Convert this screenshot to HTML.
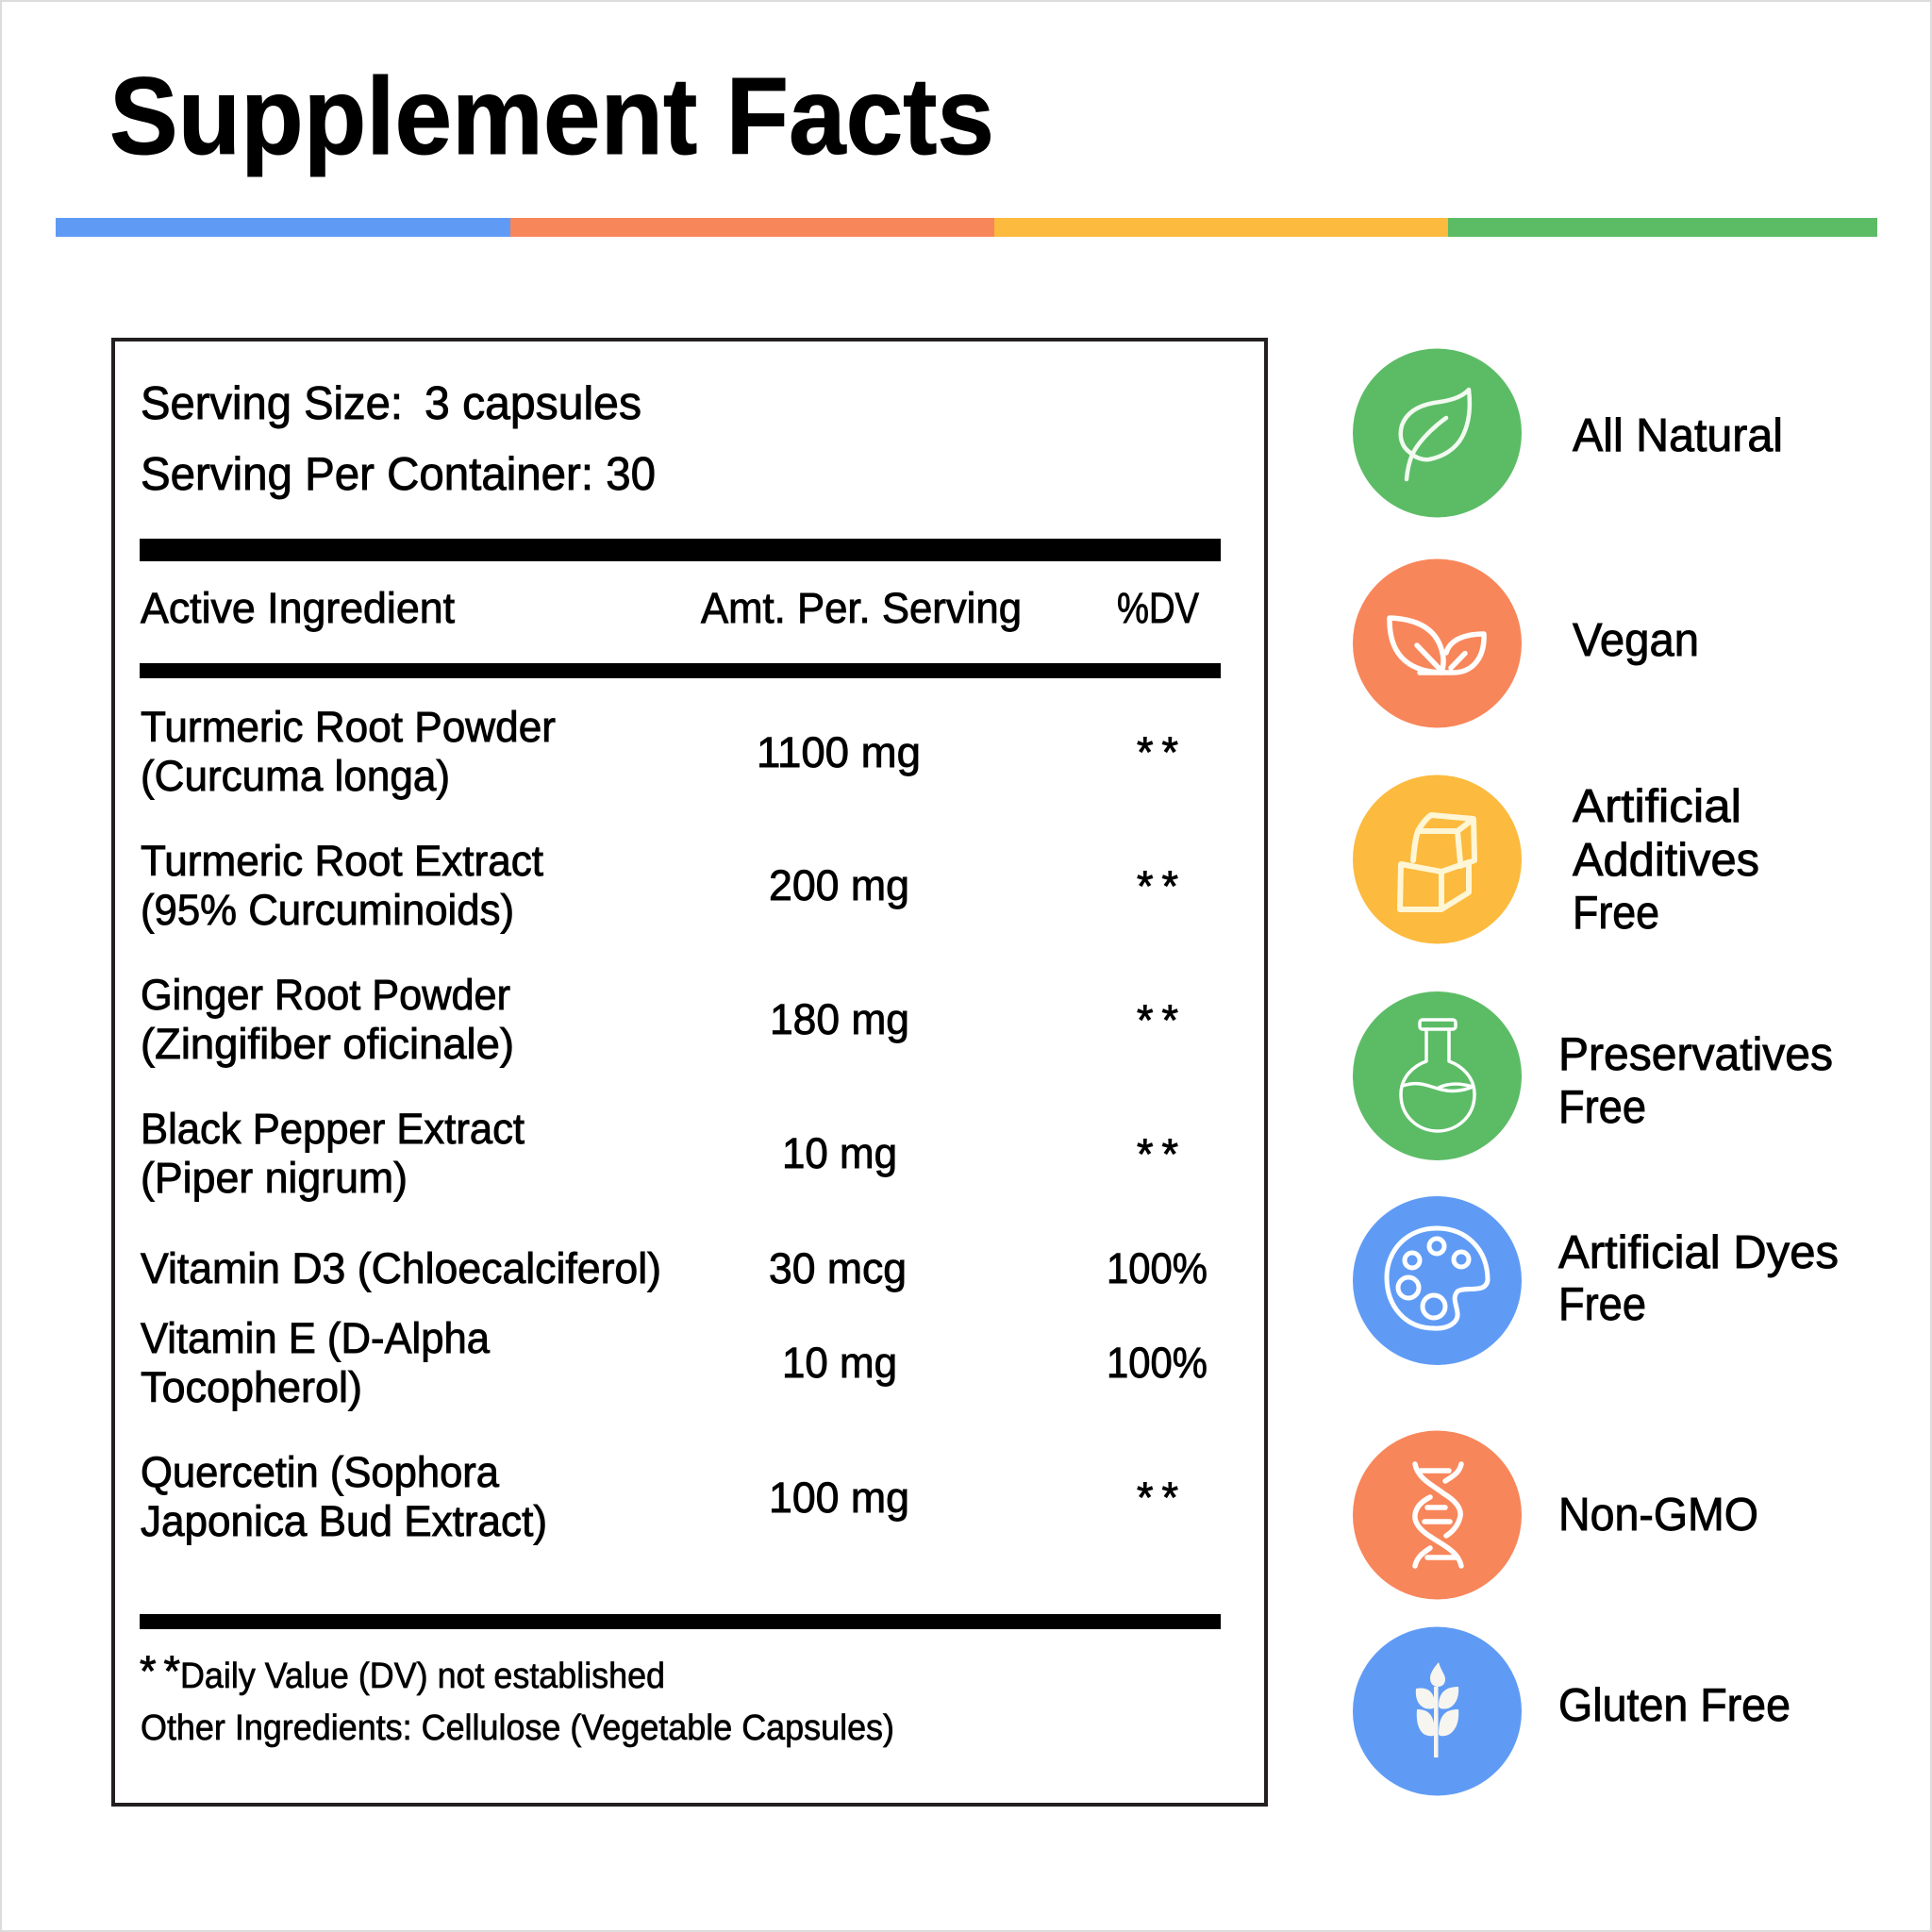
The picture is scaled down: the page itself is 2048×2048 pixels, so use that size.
<!DOCTYPE html>
<html lang="en"><head><meta charset="utf-8"><title>Supplement Facts</title>
<style>
html,body{margin:0;padding:0;background:#fff}
svg{display:block}
text{font-family:"Liberation Sans",sans-serif;fill:#000;stroke:#000;stroke-width:.9px}
.t{font-size:116px;font-weight:700;stroke-width:1px}
.h{font-size:49px}
.r{font-size:45px}
.f{font-size:38px;stroke-width:.7px}
.l{font-size:49px}
.i{fill:none;stroke:#fff;stroke-width:5;stroke-linecap:round;stroke-linejoin:round}
</style></head><body>
<svg xmlns="http://www.w3.org/2000/svg" width="2048" height="2048" viewBox="0 0 2048 2048">
<rect x="1" y="1" width="2046" height="2046" fill="#fff" stroke="#dcdcdc" stroke-width="2"/>
<text class="t" x="116" y="163" textLength="938" lengthAdjust="spacingAndGlyphs">Supplement Facts</text>
<g>
<rect x="59" y="231" width="482" height="20" fill="#5F9BF5"/>
<rect x="541" y="231" width="513" height="20" fill="#F8865B"/>
<rect x="1054" y="231" width="481" height="20" fill="#FCBA3E"/>
<rect x="1535" y="231" width="455" height="20" fill="#5CBC66"/>
</g>
<rect x="120" y="360" width="1222" height="1553" fill="none" stroke="#231f20" stroke-width="4"/>
<text class="h" x="149" y="444" textLength="278" lengthAdjust="spacingAndGlyphs">Serving Size:</text>
<text class="h" x="450" y="444" textLength="230" lengthAdjust="spacingAndGlyphs">3 capsules</text>
<text class="h" x="149" y="519" textLength="546" lengthAdjust="spacingAndGlyphs">Serving Per Container: 30</text>
<rect x="148" y="571" width="1146" height="24" fill="#000"/>
<text class="r" x="149" y="660" textLength="333" lengthAdjust="spacingAndGlyphs">Active Ingredient</text>
<text class="r" x="743" y="660" textLength="340" lengthAdjust="spacingAndGlyphs">Amt. Per. Serving</text>
<text class="r" x="1184" y="660" textLength="87" lengthAdjust="spacingAndGlyphs">%DV</text>
<rect x="148" y="703" width="1146" height="16" fill="#000"/>

<g>
<text class="r" x="149" y="786" textLength="440" lengthAdjust="spacingAndGlyphs">Turmeric Root Powder</text>
<text class="r" x="149" y="838" textLength="328" lengthAdjust="spacingAndGlyphs">(Curcuma longa)</text>
<text class="r" x="802" y="813" textLength="174" lengthAdjust="spacingAndGlyphs">1100 mg</text>
<text class="r" x="1205" y="813" textLength="44">**</text>
</g>
<g>
<text class="r" x="149" y="928" textLength="427" lengthAdjust="spacingAndGlyphs">Turmeric Root Extract</text>
<text class="r" x="149" y="980" textLength="396" lengthAdjust="spacingAndGlyphs">(95% Curcuminoids)</text>
<text class="r" x="815" y="954" textLength="149" lengthAdjust="spacingAndGlyphs">200 mg</text>
<text class="r" x="1205" y="955" textLength="44">**</text>
</g>
<g>
<text class="r" x="149" y="1070" textLength="392" lengthAdjust="spacingAndGlyphs">Ginger Root Powder</text>
<text class="r" x="149" y="1122" textLength="396" lengthAdjust="spacingAndGlyphs">(Zingifiber oficinale)</text>
<text class="r" x="816" y="1096" textLength="148" lengthAdjust="spacingAndGlyphs">180 mg</text>
<text class="r" x="1205" y="1097" textLength="44">**</text>
</g>
<g>
<text class="r" x="149" y="1212" textLength="407" lengthAdjust="spacingAndGlyphs">Black Pepper Extract</text>
<text class="r" x="149" y="1264" textLength="283" lengthAdjust="spacingAndGlyphs">(Piper nigrum)</text>
<text class="r" x="829" y="1238" textLength="122" lengthAdjust="spacingAndGlyphs">10 mg</text>
<text class="r" x="1205" y="1239" textLength="44">**</text>
</g>
<g>
<text class="r" x="149" y="1360" textLength="552" lengthAdjust="spacingAndGlyphs">Vitamin D3 (Chloecalciferol)</text>
<text class="r" x="815" y="1360" textLength="146" lengthAdjust="spacingAndGlyphs">30 mcg</text>
<text class="r" x="1173" y="1360" textLength="107" lengthAdjust="spacingAndGlyphs">100%</text>
</g>
<g>
<text class="r" x="149" y="1434" textLength="370" lengthAdjust="spacingAndGlyphs">Vitamin E (D-Alpha</text>
<text class="r" x="149" y="1486" textLength="235" lengthAdjust="spacingAndGlyphs">Tocopherol)</text>
<text class="r" x="829" y="1460" textLength="122" lengthAdjust="spacingAndGlyphs">10 mg</text>
<text class="r" x="1173" y="1460" textLength="107" lengthAdjust="spacingAndGlyphs">100%</text>
</g>
<g>
<text class="r" x="149" y="1576" textLength="380" lengthAdjust="spacingAndGlyphs">Quercetin (Sophora</text>
<text class="r" x="149" y="1628" textLength="431" lengthAdjust="spacingAndGlyphs">Japonica Bud Extract)</text>
<text class="r" x="815" y="1603" textLength="149" lengthAdjust="spacingAndGlyphs">100 mg</text>
<text class="r" x="1205" y="1603" textLength="44">**</text>
</g>
<rect x="148" y="1711" width="1146" height="16" fill="#000"/>
<text class="r" x="148" y="1787" textLength="43">**</text>
<text class="f" x="191" y="1789" textLength="514" lengthAdjust="spacingAndGlyphs">Daily Value (DV) not established</text>
<text class="f" x="149" y="1844" textLength="799" lengthAdjust="spacingAndGlyphs">Other Ingredients: Cellulose (Vegetable Capsules)</text>

<g>
<circle cx="1523.5" cy="459" r="89.5" fill="#5CBC66"/>
<g class="i" style="stroke:#F2FAF0;stroke-width:4.500">
<path d="M1491,508C1492,497 1494,489 1497,482C1502,471 1515,456 1533,443"/>
<path d="M1495,480C1485,473 1483,462 1486,451C1491,437 1503,430 1520,427C1535,425 1549,422 1557,413C1559,430 1558,448 1550,463C1543,476 1530,484 1515,487C1508,488 1500,485 1495,480Z"/>
</g>
<text class="l" x="1667" y="478" textLength="223" lengthAdjust="spacingAndGlyphs">All Natural</text>
</g>
<g>
<circle cx="1523.5" cy="682" r="89.5" fill="#F8865B"/>
<g class="i" style="stroke-width:5.500">
<path d="M1473,655C1500,656 1523,665 1529,692C1531,700 1530,707 1528,713C1500,712 1472,700 1473,655Z"/>
<path d="M1533,692C1537,678 1553,672 1573,672C1574,695 1563,713 1540,713L1505,713"/>
<path d="M1502,684L1525,708M1553,692.600L1538,708"/>
</g>
<text class="l" x="1667" y="695" textLength="134" lengthAdjust="spacingAndGlyphs">Vegan</text>
</g>
<g>
<circle cx="1523.5" cy="911" r="89.5" fill="#FCBA3E"/>
<g class="i" style="stroke:#FFF6D6;stroke-width:6">
<path d="M1485,916L1528,924L1528,964L1484,964ZM1528,924L1557,914L1557,946L1528,964"/>
<path d="M1498,912C1499,900 1500,890 1503,881L1545,881L1548,914M1503,881C1507,874 1511,868 1517,864L1562,868L1545,881M1562,868L1563,912L1548,918"/>
</g>
<text class="l" x="1667" y="871" textLength="179" lengthAdjust="spacingAndGlyphs">Artificial</text>
<text class="l" x="1667" y="928" textLength="198" lengthAdjust="spacingAndGlyphs">Additives</text>
<text class="l" x="1667" y="984" textLength="92" lengthAdjust="spacingAndGlyphs">Free</text>
</g>
<g>
<circle cx="1523.5" cy="1140.500" r="89.5" fill="#5CBC66"/>
<g class="i" style="stroke-width:3.500">
<rect x="1505" y="1081" width="38" height="10" rx="3"/>
<path d="M1512,1091V1125C1498,1130 1485,1142 1485,1160C1485,1185 1505,1199 1524,1199C1543,1199 1563,1185 1563,1160C1563,1142 1550,1130 1536,1125V1091"/>
<path d="M1487,1151C1505,1145 1515,1152 1528,1155C1540,1158 1552,1156 1561,1152C1548,1148 1535,1148 1525,1153"/>
</g>
<text class="l" x="1652" y="1134" textLength="291" lengthAdjust="spacingAndGlyphs">Preservatives</text>
<text class="l" x="1652" y="1190" textLength="93" lengthAdjust="spacingAndGlyphs">Free</text>
</g>
<g>
<circle cx="1523.5" cy="1357.500" r="89.5" fill="#5F9BF5"/>
<g class="i" style="stroke-width:5">
<path d="M1577,1357C1577,1325 1555,1302 1523,1302C1492,1302 1470,1325 1470,1354C1470,1385 1490,1408 1520,1408C1535,1409 1546,1402 1545,1392C1544,1382 1539,1376 1545,1369C1553,1363 1575,1372 1577,1357Z"/>
<circle cx="1523" cy="1321" r="8"/><circle cx="1497" cy="1336" r="8"/><circle cx="1549" cy="1335" r="8"/>
<circle cx="1493" cy="1365" r="11"/><circle cx="1520" cy="1385" r="12"/>
</g>
<text class="l" x="1652" y="1344" textLength="297" lengthAdjust="spacingAndGlyphs">Artificial Dyes</text>
<text class="l" x="1652" y="1399" textLength="93" lengthAdjust="spacingAndGlyphs">Free</text>
</g>
<g>
<circle cx="1523.5" cy="1606" r="89.5" fill="#F8865B"/>
<g class="i" style="stroke-width:5.500">
<path d="M1500,1552C1503,1568 1520,1575 1530,1583C1545,1592 1549,1600 1548,1607C1546,1618 1538,1625 1533,1628"/>
<path d="M1549,1660C1546,1645 1530,1638 1518,1630C1505,1622 1499,1614 1500,1606C1501,1596 1510,1590 1516,1587"/>
<path d="M1549,1552C1547,1562 1538,1566 1532,1570M1500,1660C1502,1650 1510,1645 1516,1641"/>
<path d="M1506,1559H1536M1513,1598H1532M1510,1613H1537M1513,1651H1543"/>
</g>
<text class="l" x="1652" y="1622" textLength="212" lengthAdjust="spacingAndGlyphs">Non-GMO</text>
</g>
<g>
<circle cx="1523.5" cy="1814" r="89.5" fill="#5F9BF5"/>
<g fill="#F7F5F0">
<rect x="1520" y="1788" width="4.500" height="75"/>
<path d="M1525,1762C1518,1770 1516,1775 1516,1779C1516,1785 1520,1788 1524,1788C1529,1788 1532,1785 1532,1780C1532,1775 1528,1772 1525,1762Z"/>
<path d="M1501,1790C1512,1788 1521,1792 1521,1808C1521,1812 1516,1812 1511,1811C1503,1808 1500,1800 1501,1790Z"/>
<path d="M1546,1788C1535,1788 1525,1792 1525,1808C1525,1812 1530,1812 1535,1811C1543,1808 1547,1799 1546,1788Z"/>
<path d="M1502,1812C1513,1812 1521,1816 1521,1838C1521,1841 1514,1841 1509,1838C1503,1833 1501,1824 1502,1812Z"/>
<path d="M1546,1812C1534,1812 1525,1816 1525,1838C1525,1841 1532,1841 1537,1838C1544,1833 1547,1824 1546,1812Z"/>
</g>
<text class="l" x="1652" y="1824" textLength="246" lengthAdjust="spacingAndGlyphs">Gluten Free</text>
</g>
</svg>
</body></html>
